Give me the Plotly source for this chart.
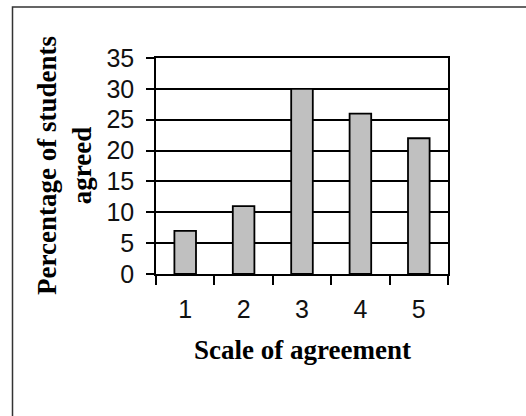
import plotly.graph_objects as go

# Survey results: share of students at each point of the agreement scale
scale_points = ["1", "2", "3", "4", "5"]
percent_agreed = [7, 11, 30, 26, 22]
y_ticks = [0, 5, 10, 15, 20, 25, 30, 35]

W, H = 526, 416
L, R, T, B = 156, 78, 58, 142
plot_w = W - L - R
plot_h = H - T - B


def px_x(p):
    return (p - L) / plot_w


def px_y(p):
    return (H - B - p) / plot_h


fig = go.Figure(
    go.Bar(
        x=scale_points,
        y=percent_agreed,
        width=0.37,
        marker=dict(color="#c0c0c0", line=dict(color="black", width=1.8)),
    )
)

tick_font = dict(family="Liberation Sans, Arial, sans-serif", size=25, color="#111")
title_font = dict(family="Liberation Serif, Times New Roman, serif", size=27, color="black")

fig.update_layout(
    width=W,
    height=H,
    margin=dict(l=L, r=R, t=T, b=B, autoexpand=False),
    paper_bgcolor="white",
    plot_bgcolor="white",
    showlegend=False,
    xaxis=dict(
        type="category",
        tickson="boundaries",
        ticks="outside",
        ticklen=9,
        tickwidth=1.5,
        tickcolor="black",
        showline=True,
        linecolor="black",
        linewidth=1.6,
        mirror=True,
        showgrid=False,
        tickfont=tick_font,
        ticklabelstandoff=12,
        fixedrange=True,
    ),
    yaxis=dict(
        range=[0, 35],
        tickvals=y_ticks,
        ticks="outside",
        ticklen=8,
        tickwidth=1.5,
        tickcolor="black",
        showline=True,
        linecolor="black",
        linewidth=1.6,
        mirror=True,
        showgrid=True,
        gridcolor="black",
        gridwidth=1.5,
        zeroline=False,
        tickfont=tick_font,
        ticklabelstandoff=7,
        fixedrange=True,
    ),
    annotations=[
        dict(
            text="<b>Scale of agreement</b>",
            x=px_x(302), y=px_y(350),
            xref="paper", yref="paper",
            xanchor="center", yanchor="middle",
            showarrow=False,
            font=title_font,
        ),
        dict(
            text="<b>Percentage of students<br>agreed</b>",
            x=px_x(64), y=px_y(166),
            xref="paper", yref="paper",
            xanchor="center", yanchor="middle",
            textangle=-90,
            showarrow=False,
            font=title_font,
        ),
    ],
    shapes=[
        dict(
            type="rect",
            xref="paper", yref="paper",
            x0=px_x(12.5), x1=px_x(W + 20),
            y0=px_y(H + 20), y1=px_y(7),
            line=dict(color="#333", width=1.5),
            fillcolor="rgba(0,0,0,0)",
            layer="above",
        )
    ],
)

fig.write_html("out.html")
